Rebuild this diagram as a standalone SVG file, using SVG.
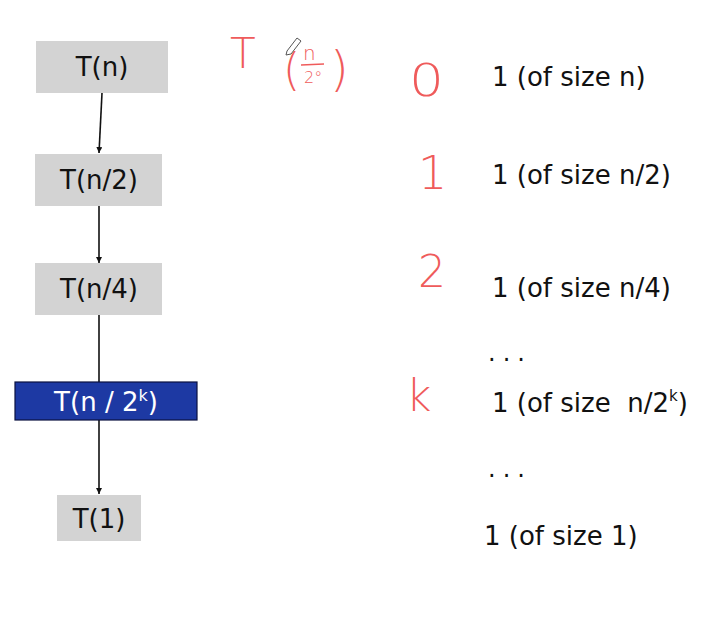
<svg xmlns="http://www.w3.org/2000/svg" width="711" height="625" viewBox="0 0 711 625">
<style>
.box{fill:#d3d3d3}
.lbl{font-family:"DejaVu Sans",sans-serif;font-size:26px;fill:#111;text-anchor:middle}
.wl{fill:#fff}
.row{font-family:"DejaVu Sans",sans-serif;font-size:26px;fill:#111}
.dots{font-family:"DejaVu Sans",sans-serif;font-size:24px;fill:#111;letter-spacing:7px}
.hand{font-family:"DejaVu Sans",sans-serif;font-weight:200;fill:#ef5b5b}
.edge{stroke:#111;stroke-width:1.6;fill:none}
</style>
<defs>
<marker id="ah" viewBox="0 0 10 10" refX="10" refY="5" markerWidth="6" markerHeight="6" markerUnits="userSpaceOnUse" orient="auto">
<path d="M0,0 L10,5 L0,10 z" fill="#111"/>
</marker>
</defs>
<rect width="711" height="625" fill="#fff"/>
<g id="connectors">
<path class="edge" d="M102,93 L99,153" marker-end="url(#ah)"/>
<path class="edge" d="M99,206 L99,263" marker-end="url(#ah)"/>
<path class="edge" d="M99,315 L99,382"/>
<path class="edge" d="M99,420 L99,494" marker-end="url(#ah)"/>
</g>
<g id="n_Tn"><rect class="box" x="36" y="41" width="132" height="52"/><text class="lbl" x="102" y="76">T(n)</text></g>
<g id="n_Tn2"><rect class="box" x="35" y="154" width="127" height="52"/><text class="lbl" x="99" y="189">T(n/2)</text></g>
<g id="n_Tn4"><rect class="box" x="35" y="263" width="127" height="52"/><text class="lbl" x="99" y="298">T(n/4)</text></g>
<g id="n_Tn2k"><rect x="15" y="382" width="182" height="38" fill="#1d39a3" stroke="#0a1240" stroke-width="1.2"/><text class="lbl wl" x="106" y="411">T(n / 2<tspan font-size="16" dy="-10">k</tspan><tspan dy="10">)</tspan></text></g>
<g id="n_T1"><rect class="box" x="57" y="495" width="84" height="46"/><text class="lbl" x="99" y="528">T(1)</text></g>
<g id="levels">
<text class="row" x="492" y="86">1 (of size n)</text>
<text class="row" x="492" y="184">1 (of size n/2)</text>
<text class="row" x="492" y="297">1 (of size n/4)</text>
<text class="dots" x="488" y="361">...</text>
<text class="row" x="492" y="412" xml:space="preserve">1 (of size  n/2<tspan font-size="15" dy="-11">k</tspan><tspan dy="11">)</tspan></text>
<text class="dots" x="488" y="477">...</text>
<text class="row" x="484" y="545">1 (of size 1)</text>
</g>
<g id="annotations">
<text class="hand" x="230" y="68" font-size="42">T</text>
<text class="hand" x="283" y="85" font-size="44">(</text>
<text class="hand" x="303" y="60" font-size="20">n</text>
<path d="M301,65 L324,64" stroke="#ef5b5b" stroke-width="1.3" fill="none"/>
<text class="hand" x="304" y="83" font-size="16">2°</text>
<text class="hand" x="330" y="86" font-size="48">)</text>
<path d="M287,51 L297,38 L301,41 L291,54 L286,55 z" fill="#fff" stroke="#555" stroke-width="1"/>
<text class="hand" x="409" y="96" font-size="44" transform="translate(409,96) scale(1.25,1) translate(-409,-96)">0</text>
<text class="hand" x="418" y="189" font-size="46">1</text>
<text class="hand" x="418" y="287" font-size="44">2</text>
<text class="hand" x="406" y="411" font-size="44">k</text>
</g>
</svg>
